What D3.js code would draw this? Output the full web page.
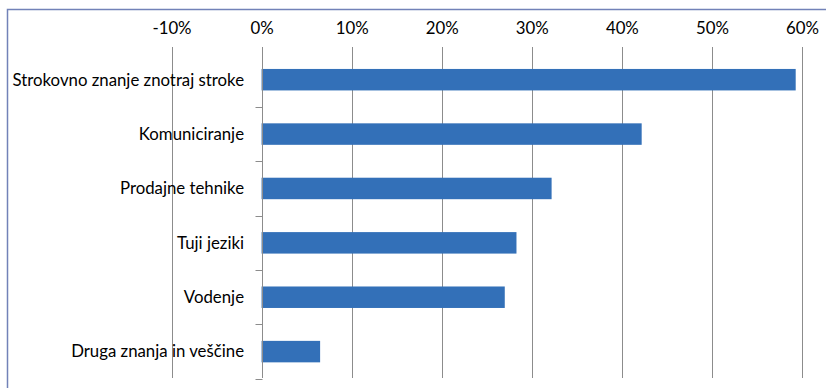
<!DOCTYPE html>
<html>
<head>
<meta charset="utf-8">
<script src="https://cdn.jsdelivr.net/npm/d3@7"></script>
<style>
  html, body { margin: 0; padding: 0; background: #fff; }
  svg { display: block; }
  text { font-family: Lato, "Open Sans", sans-serif; fill: #000; }
</style>
</head>
<body>
<svg id="chart" width="826" height="388"></svg>
<script>
// Skills categories (top to bottom) and their shares
const categories = [
  "Strokovno znanje znotraj stroke",
  "Komuniciranje",
  "Prodajne tehnike",
  "Tuji jeziki",
  "Vodenje",
  "Druga znanja in veščine"
];
const shares = [0.593, 0.422, 0.322, 0.283, 0.270, 0.065];
const tickValues = [-0.1, 0, 0.1, 0.2, 0.3, 0.4, 0.5, 0.6];

const svg = d3.select("#chart");
const W = 826, H = 388;
const fontSize = "16.8px";

// Outer chart frame (extends past the right and bottom edges)
svg.append("rect")
  .attr("x", 7.5).attr("y", 9.5)
  .attr("width", W + 20).attr("height", H + 20)
  .attr("fill", "none")
  .attr("stroke", "#7282b8")
  .attr("stroke-width", 1.5);

const plotTop = 47, plotBottom = 378;

const x = d3.scaleLinear().domain([-0.1, 0.6]).range([171.5, 802]);
const y = d3.scaleBand().domain(categories).range([52.5, 378.8]).paddingInner(0.605).paddingOuter(0.3025);

// Vertical gridlines
svg.append("g").selectAll("line")
  .data(tickValues.filter(v => v !== 0))
  .join("line")
  .attr("x1", d => Math.round(x(d)) + 0.5)
  .attr("x2", d => Math.round(x(d)) + 0.5)
  .attr("y1", plotTop).attr("y2", plotBottom)
  .attr("stroke", "#8c8c8c")
  .attr("stroke-width", 1);

// Top axis labels (plain hyphen for negatives)
const pct = v => (v < 0 ? "-" : "") + Math.round(Math.abs(v) * 100) + "%";
const xAxis = d3.axisTop(x)
  .tickValues(tickValues)
  .tickFormat(pct)
  .tickSize(0)
  .tickPadding(0);
const gx = svg.append("g").attr("transform", "translate(0,34)").call(xAxis);
gx.select(".domain").remove();
gx.selectAll("text")
  .attr("font-size", fontSize)
  .attr("font-family", "Lato, 'Open Sans', sans-serif")
  .attr("fill", "#000")
  .attr("dy", 0);

// Bars
svg.append("g").selectAll("rect")
  .data(categories.map((c, i) => ({ c, v: shares[i] })))
  .join("rect")
  .attr("x", x(0))
  .attr("y", d => y(d.c))
  .attr("width", d => x(d.v) - x(0))
  .attr("height", y.bandwidth())
  .attr("fill", "#3370b8");

// Category axis at 0%
const zeroX = Math.round(x(0)) + 0.5;
svg.append("line")
  .attr("x1", zeroX).attr("x2", zeroX)
  .attr("y1", plotTop).attr("y2", plotBottom)
  .attr("stroke", "#8c8c8c");

const step = y.step();
const boundaries = categories.map((c, i) => y(c) + y.bandwidth() + step * 0.605 / 2);
svg.append("g").selectAll("line")
  .data(boundaries)
  .join("line")
  .attr("x1", zeroX - 7).attr("x2", zeroX)
  .attr("y1", d => Math.round(d) + 0.5)
  .attr("y2", d => Math.round(d) + 0.5)
  .attr("stroke", "#8c8c8c");

// Category labels
svg.append("g").selectAll("text")
  .data(categories)
  .join("text")
  .attr("x", 244)
  .attr("y", d => y(d) + y.bandwidth() / 2)
  .attr("dy", "0.35em")
  .attr("text-anchor", "end")
  .attr("font-size", fontSize)
  .text(d => d);
</script>
</body>
</html>
